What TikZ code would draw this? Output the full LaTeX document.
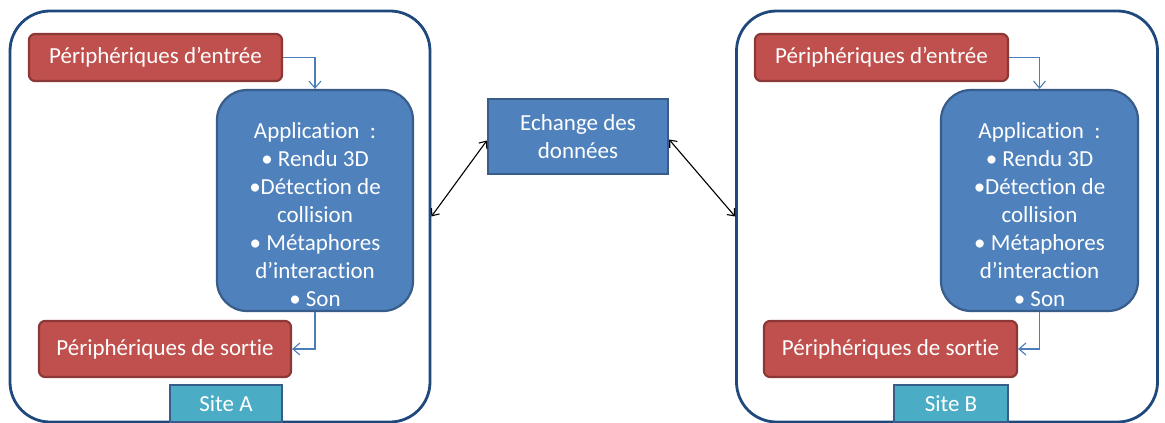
\documentclass[tikz,border=0pt]{standalone}
\usepackage{fontspec}
\setmainfont{Carlito}[Ligatures={NoCommon}]
\usetikzlibrary{arrows.meta}
\definecolor{redfill}{HTML}{C0504D}
\definecolor{redline}{HTML}{8C3836}
\definecolor{bluefill}{HTML}{4F81BD}
\definecolor{blueline}{HTML}{385D8A}
\definecolor{tealfill}{HTML}{4BACC6}
\definecolor{outerline}{HTML}{1F497D}
\definecolor{connblue}{HTML}{4A7EBB}
\begin{document}
\begin{tikzpicture}[x=1pt,y=-1pt,
  every node/.style={font=\fontsize{23}{28}\selectfont, text=white, inner sep=0pt, align=center},
  outerbox/.style={draw=outerline, line width=2.8pt, rounded corners=40pt, fill=white},
  redbox/.style={draw=redline, line width=2.2pt, fill=redfill, rounded corners=6pt},
  appbox/.style={draw=blueline, line width=2.2pt, fill=bluefill, rounded corners=30pt},
  echbox/.style={draw=blueline, line width=2.2pt, fill=bluefill},
  sitebox/.style={draw=blueline, line width=2.2pt, fill=tealfill},
  conn/.style={draw=connblue, line width=1.1pt, -{Straight Barb[length=7pt,width=12pt]}},
  xchg/.style={draw=black, line width=1.1pt, {Straight Barb[length=6pt,width=10pt]}-{Straight Barb[length=6pt,width=10pt]}}
]
\useasboundingbox (0,0) rectangle (1165,423);
% ---- Site A ----
\node[outerbox, minimum width=420pt, minimum height=411pt] (outA) at (220,216.5) {};
\node[redbox, minimum width=253pt, minimum height=47pt] (inA) at (155.5,57.5) {Périphériques d’entrée};
\node[appbox, minimum width=196pt, minimum height=221pt] (appA) at (315,200.5) {};
\node (appAt) at (315,215) {Application\ \ :\\• Rendu 3D\\•Détection de\\collision\\• Métaphores\\d’interaction\\• Son};
\node[redbox, minimum width=252pt, minimum height=56pt] (outdA) at (165,349) {Périphériques de sortie};
\node[sitebox, minimum width=112pt, minimum height=37pt] (siteA) at (226,403.5) {Site A};
\draw[conn] (inA.east) -| (appA.north);
\draw[conn] (appA.south) |- (outdA.east);
% ---- Echange ----
\node[echbox, minimum width=180pt, minimum height=75pt] (ech) at (578,136.5) {Echange des\\données};
% ---- Site B ----
\node[outerbox, minimum width=421pt, minimum height=411pt] (outB) at (947,216.5) {};
\node[redbox, minimum width=253pt, minimum height=47pt] (inB) at (881.5,57.5) {Périphériques d’entrée};
\node[appbox, minimum width=197pt, minimum height=221pt] (appB) at (1039.5,200.5) {};
\node (appBt) at (1039.5,215) {Application\ \ :\\• Rendu 3D\\•Détection de\\collision\\• Métaphores\\d’interaction\\• Son};
\node[redbox, minimum width=253pt, minimum height=56pt] (outdB) at (890.5,349) {Périphériques de sortie};
\node[sitebox, minimum width=114pt, minimum height=37pt] (siteB) at (951,403.5) {Site B};
\draw[conn] (inB.east) -| (appB.north);
\draw[conn] (appB.south) |- (outdB.east);
% ---- exchanges ----
\draw[xchg] (outA.east) -- ([yshift=-4pt]ech.west);
\draw[xchg] ([yshift=-3pt]ech.east) -- (outB.west);
\end{tikzpicture}
\end{document}
